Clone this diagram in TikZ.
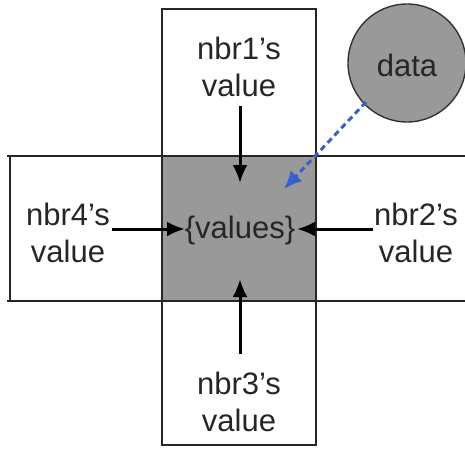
\documentclass[tikz,border=0pt]{standalone}
\usepackage{fontspec}
\setmainfont{Liberation Sans}
\usetikzlibrary{arrows.meta}
\definecolor{cellgray}{HTML}{999999}
\definecolor{dashblue}{HTML}{3A5FCD}
\begin{document}
\begin{tikzpicture}[x=1pt,y=-1pt,
  lbl/.style={font=\fontsize{31}{37}\selectfont, align=center, inner sep=0pt, text=black!85},
  border/.style={draw=black!85, line width=1.4pt},
  flow/.style={draw=black, line width=3pt, -{Latex[length=18pt,width=15pt]}},
  dflow/.style={draw=dashblue, line width=3pt, dash pattern=on 6pt off 4pt, -{Latex[length=18pt,width=16pt]}}]
\useasboundingbox (0,0) rectangle (465,448);
% centre cell
\fill[cellgray] (162,156) rectangle (316,301);
% row
\draw[border] (7,156) -- (470,156);
\draw[border] (7,301) -- (470,301);
\draw[border] (10,156) -- (10,301);
% column
\draw[border] (162,9) -- (162,445) -- (316,445) -- (316,9);
\draw[draw=black!85, line width=2.5pt] (161.3,9) -- (316.7,9);
% data circle
\node[circle, fill=cellgray, draw=black!80, line width=1.4pt, minimum size=118pt, inner sep=0pt] (data) at (407,63) {};
\node[lbl] (datal) at (407,65) {data};
% labels
\node[lbl] (n1) at (239,67) {nbr1’s\\value};
\node[lbl] (n4) at (68,233) {nbr4’s\\value};
\node[lbl] (n2) at (416,233) {nbr2’s\\value};
\node[lbl] (n3) at (239,402) {nbr3’s\\value};
\node[lbl] (vals) at (240,230) {\{values\}};
% arrow end points
\coordinate (a1s) at (240,106);
\coordinate (a1e) at (240,183);
\coordinate (a4s) at (112,229);
\coordinate (a4e) at (185,229);
\coordinate (a2s) at (373,229);
\coordinate (a2e) at (297,229);
\coordinate (a3s) at (240,354);
\coordinate (a3e) at (240,279);
\coordinate (ds) at (366,102);
\coordinate (de) at (284,189);
\draw[flow] (a1s) -- (a1e);
\draw[flow] (a4s) -- (a4e);
\draw[flow] (a2s) -- (a2e);
\draw[flow] (a3s) -- (a3e);
\draw[dflow] (ds) -- (de);
\end{tikzpicture}
\end{document}
